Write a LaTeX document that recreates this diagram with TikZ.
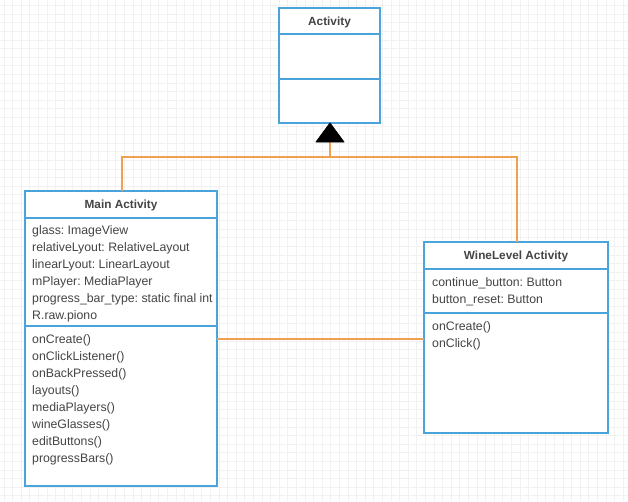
\documentclass[tikz,border=0pt]{standalone}
\usepackage{fontspec}
\setmainfont{Liberation Sans}
\frenchspacing
\definecolor{umlblue}{HTML}{4AA3DA}
\definecolor{umlorange}{HTML}{F0A050}
\definecolor{umltext}{HTML}{444444}
\definecolor{gridc}{HTML}{F1F1F1}
\begin{document}
\begin{tikzpicture}[x=1pt,y=-1pt,
  box/.style={draw=umlblue,line width=1.3pt,fill=white},
  sep/.style={draw=umlblue,line width=1.3pt},
  conn/.style={draw=umlorange,line width=1.4pt},
  txt/.style={anchor=west,inner sep=0pt,text=umltext,font=\fontsize{12.3}{14}\selectfont},
  ttl/.style={anchor=center,inner sep=0pt,text=umltext,font=\bfseries\fontsize{11.8}{13}\selectfont}]
\useasboundingbox (0,0) rectangle (628,501);
\fill[white] (0,0) rectangle (628,501);
\foreach \i in {0,...,73} {\draw[gridc,line width=0.6pt] (3.8+\i*8.6,0) -- (3.8+\i*8.6,501);}
\foreach \i in {0,...,58} {\draw[gridc,line width=0.6pt] (0,5.4+\i*8.6) -- (628,5.4+\i*8.6);}
% Activity
\draw[box] (279,8) rectangle (380,123);
\draw[sep] (279,34) -- (380,34);
\draw[sep] (279,79) -- (380,79);
\node[ttl] (actt) at (329.5,22) {Activity};
\coordinate (acttip) at (330,123);
\coordinate (actbase) at (330,142);
\coordinate (junc) at (330,157);
% Main Activity
\draw[box] (25,191) rectangle (217,486);
\draw[sep] (25,218) -- (217,218);
\draw[sep] (25,326) -- (217,326);
\node[ttl] (maint) at (121,205.5) {Main Activity};
\node[txt] (m1) at (32,231) {glass: ImageView};
\node[txt] (m2) at (32,248) {relativeLyout: RelativeLayout};
\node[txt] (m3) at (32,265) {linearLyout: LinearLayout};
\node[txt] (m4) at (32,282) {mPlayer: MediaPlayer};
\node[txt] (m5) at (32,299) {progress\_bar\_type: static final int};
\node[txt] (m6) at (32,316) {R.raw.piono};
\node[txt] (o1) at (32,340) {onCreate()};
\node[txt] (o2) at (32,357) {onClickListener()};
\node[txt] (o3) at (32,374) {onBackPressed()};
\node[txt] (o4) at (32,391) {layouts()};
\node[txt] (o5) at (32,408) {mediaPlayers()};
\node[txt] (o6) at (32,425) {wineGlasses()};
\node[txt] (o7) at (32,442) {editButtons()};
\node[txt] (o8) at (32,459) {progressBars()};
\coordinate (maintop) at (122,191);
\coordinate (mainright) at (217,339);
% WineLevel Activity
\draw[box] (424,242) rectangle (608,433);
\draw[sep] (424,269) -- (608,269);
\draw[sep] (424,313) -- (608,313);
\node[ttl] (winet) at (516,256.5) {WineLevel Activity};
\node[txt] (w1) at (432,283) {continue\_button: Button};
\node[txt] (w2) at (432,300) {button\_reset: Button};
\node[txt] (w3) at (432,327) {onCreate()};
\node[txt] (w4) at (432,344) {onClick()};
\coordinate (winetop) at (517,242);
\coordinate (wineleft) at (424,339);
% connectors
\draw[conn] (maintop) |- (junc) -| (winetop);
\draw[conn] (junc) -- (actbase);
\draw[conn] (mainright) -- (wineleft);
\fill[black,draw=black,line width=0.8pt,line join=round] (acttip) -- (316,142) -- (344,142) -- cycle;
\end{tikzpicture}
\end{document}
